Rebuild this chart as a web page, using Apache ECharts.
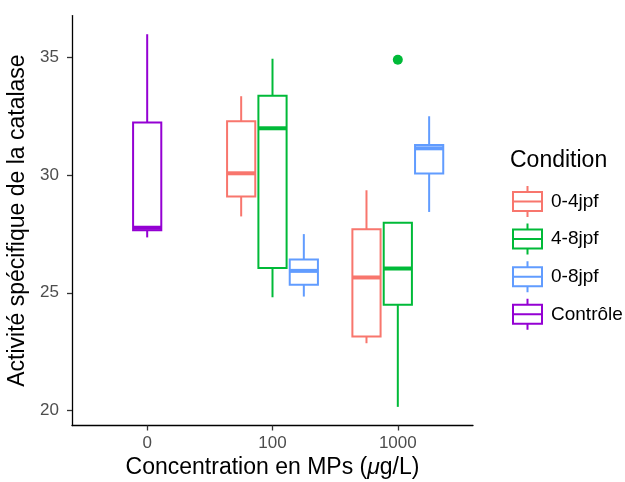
<!DOCTYPE html>
<html>
<head>
<meta charset="utf-8">
<script src="https://cdn.jsdelivr.net/npm/echarts@6/dist/echarts.min.js"></script>
<style>
  html, body { margin: 0; padding: 0; background: #ffffff; }
  #chart { width: 625px; height: 482px; }
</style>
</head>
<body>
<div id="chart"></div>
<script>
// Concentration levels on the x axis
const categories = ['0', '100', '1000'];
// Exposure groups, in legend order
const groups = ['0-4jpf', '4-8jpf', '0-8jpf', 'Contrôle'];
const groupColors = ['#F8766D', '#00BA38', '#619CFF', '#9400D3'];

// Five-number summaries [min, Q1, median, Q3, max] per concentration (null = no samples)
const stats04 = [null, [28.24, 29.09, 30.07, 32.28, 33.34], [22.86, 23.15, 25.65, 27.70, 29.35]];
const stats48 = [null, [24.81, 26.05, 31.98, 33.36, 34.93], [20.16, 24.49, 26.03, 27.97, 27.97]];
const stats08 = [null, [24.84, 25.34, 25.93, 26.41, 27.49], [28.43, 30.06, 31.13, 31.27, 32.49]];
const statsCtrl = [[27.35, 27.65, 27.76, 32.22, 35.97], null, null];
// Outlying points [concentration index, value]
const outliers04 = [];
const outliers48 = [[2, 34.89]];
const outliers08 = [];
const outliersCtrl = [];

const yTicks = [20, 25, 30, 35];

const groupStats = [stats04, stats48, stats08, statsCtrl];
const groupOutliers = [outliers04, outliers48, outliers08, outliersCtrl];

// Dodge layout: each slot is 0.75 / (max groups at one level) wide, box fills 90% of its slot
const DODGE = 0.75;
const maxPerLevel = Math.max(...categories.map((_, c) => groupStats.filter(s => s[c]).length));
const slot = DODGE / maxPerLevel;
const BOX_WIDTH = slot * 0.9;

function dodgeX(groupIdx, catIdx) {
  const present = groupStats.map((s, g) => s[catIdx] ? g : -1).filter(g => g >= 0);
  const pos = present.indexOf(groupIdx);
  return catIdx + (pos - (present.length - 1) / 2) * slot;
}

// y range: data extent expanded by 5% on each side
const allVals = [];
groupStats.forEach(s => s.forEach(v => { if (v) allVals.push(...v); }));
groupOutliers.forEach(o => o.forEach(p => allVals.push(p[1])));
const yLo = Math.min(...allVals), yHi = Math.max(...allVals);
const yPad = (yHi - yLo) * 0.05;

const LW = 2;

function renderBox(params, api) {
  const x = api.value(0);
  const lo = api.coord([x, api.value(1)]);
  const q1 = api.coord([x, api.value(2)]);
  const md = api.coord([x, api.value(3)]);
  const q3 = api.coord([x, api.value(4)]);
  const hi = api.coord([x, api.value(5)]);
  const half = api.size([BOX_WIDTH, 0])[0] / 2;
  const color = api.visual('color');
  const cx = md[0];
  return {
    type: 'group',
    children: [
      { type: 'line', shape: { x1: cx, y1: hi[1], x2: cx, y2: q3[1] }, style: { stroke: color, lineWidth: LW } },
      { type: 'line', shape: { x1: cx, y1: q1[1], x2: cx, y2: lo[1] }, style: { stroke: color, lineWidth: LW } },
      { type: 'rect', shape: { x: cx - half, y: q3[1], width: half * 2, height: q1[1] - q3[1] },
        style: { fill: '#ffffff', stroke: color, lineWidth: LW } },
      { type: 'line', shape: { x1: cx - half, y1: md[1], x2: cx + half, y2: md[1] },
        style: { stroke: color, lineWidth: LW * 2 } }
    ]
  };
}

const series = [];
groups.forEach((name, g) => {
  const data = [];
  groupStats[g].forEach((v, c) => { if (v) data.push([dodgeX(g, c), ...v]); });
  series.push({
    type: 'custom',
    name: name,
    renderItem: renderBox,
    itemStyle: { color: groupColors[g] },
    encode: { x: 0, y: [1, 2, 3, 4, 5] },
    data: data,
    z: 2
  });
  if (groupOutliers[g].length) {
    series.push({
      type: 'scatter',
      name: name,
      symbol: 'circle',
      symbolSize: 10,
      itemStyle: { color: groupColors[g], opacity: 1 },
      data: groupOutliers[g].map(p => [dodgeX(g, p[0]), p[1]]),
      z: 3
    });
  }
});

// Legend key: a small box-and-whisker glyph
const keyIcon = 'path://M14.5,0L14.5,6M0,6L29,6L29,25L0,25ZM0,15.5L29,15.5M14.5,25L14.5,31';

const FONT = '"Liberation Sans", Arial, Helvetica, sans-serif';

const option = {
  animation: false,
  textStyle: { fontFamily: FONT },
  title: {
    text: 'Condition',
    left: 510,
    top: 149,
    padding: 0,
    textStyle: { fontFamily: FONT, fontSize: 23, fontWeight: 'normal', color: '#000000' }
  },
  legend: {
    orient: 'vertical',
    left: 512,
    top: 185,
    padding: 0,
    itemWidth: 29,
    itemHeight: 31,
    itemGap: 4.6,
    selectedMode: false,
    textStyle: { fontFamily: FONT, fontSize: 19, color: '#000000', padding: [0, 0, 0, 4] },
    data: groups.map((name, g) => ({
      name: name,
      icon: keyIcon,
      itemStyle: { color: '#ffffff', borderColor: groupColors[g], borderWidth: LW }
    }))
  },
  grid: {
    left: 72, right: 152, top: 15.6, bottom: 56.5,
    outerBoundsMode: 'none'
  },
  xAxis: {
    type: 'value',
    min: -0.6,
    max: categories.length - 1 + 0.6,
    name: 'Concentration en MPs ({i|μ}g/L)',
    nameLocation: 'middle',
    nameGap: 26,
    nameTextStyle: {
      fontFamily: FONT, fontSize: 23, color: '#000000',
      rich: { i: { fontFamily: FONT, fontSize: 23, fontStyle: 'italic', color: '#000000' } }
    },
    splitLine: { show: false },
    axisLine: { show: true, onZero: false, lineStyle: { color: '#000000', width: 1.3 } },
    axisTick: {
      show: true, length: 5, customValues: categories.map((_, i) => i),
      lineStyle: { color: '#333333', width: 1.3 }
    },
    axisLabel: {
      customValues: categories.map((_, i) => i),
      formatter: v => categories[Math.round(v)],
      fontFamily: FONT, fontSize: 17, color: '#4D4D4D', margin: 9
    }
  },
  yAxis: {
    type: 'value',
    min: yLo - yPad,
    max: yHi + yPad,
    name: 'Activité spécifique de la catalase',
    nameLocation: 'middle',
    nameGap: 33,
    nameTextStyle: { fontFamily: FONT, fontSize: 23, color: '#000000' },
    splitLine: { show: false },
    axisLine: { show: true, onZero: false, lineStyle: { color: '#000000', width: 1.3 } },
    axisTick: {
      show: true, length: 5, customValues: yTicks,
      lineStyle: { color: '#333333', width: 1.3 }
    },
    axisLabel: {
      customValues: yTicks,
      fontFamily: FONT, fontSize: 17, color: '#4D4D4D', margin: 13
    }
  },
  series: series
};

const chart = echarts.init(document.getElementById('chart'), null, { renderer: 'canvas' });
chart.setOption(option);
</script>
</body>
</html>
